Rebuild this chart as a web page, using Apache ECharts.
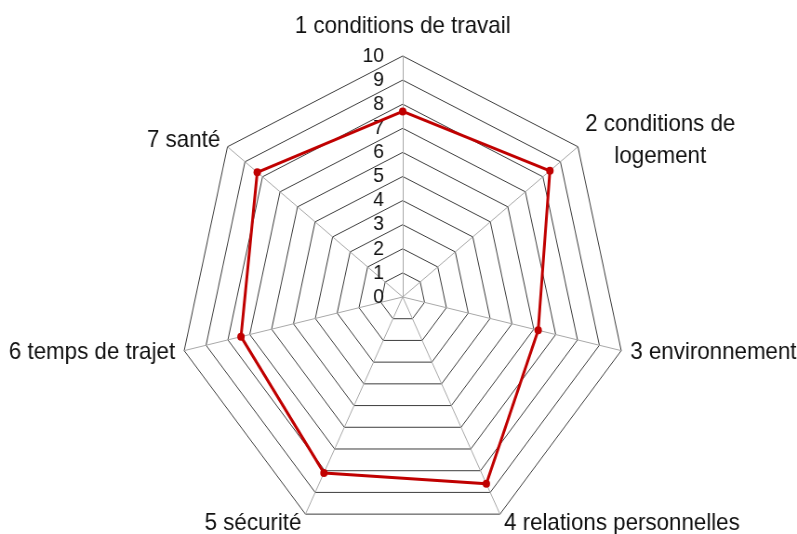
<!DOCTYPE html>
<html>
<head>
<meta charset="utf-8">
<script src="https://cdn.jsdelivr.net/npm/echarts@6/dist/echarts.min.js"></script>
<style>
  html, body { margin: 0; padding: 0; overflow: hidden; background: #fff; }
  /* the reference is squeezed horizontally, so the chart is drawn wider and scaled back */
  #chart { width: 857px; height: 534px; transform: scaleX(0.93); transform-origin: 0 0; }
</style>
</head>
<body>
<div id="chart"></div>
<script>
const categories = [
  '1 conditions de travail',
  '2 conditions de logement',
  '3 environnement',
  '4 relations personnelles',
  '5 sécurité',
  '6 temps de trajet',
  '7 santé'
]
const scores = [7.7, 8.4, 6.2, 8.6, 8.1, 7.4, 8.3]
const maxScore = 10

// echarts lays indicators out counter-clockwise, the reference goes clockwise
const order = [0, 6, 5, 4, 3, 2, 1]

const indicator = order.map((i, k) => {
  const item = { name: categories[i], max: maxScore, min: 0 }
  if (k === 0) item.axisLabel = { show: true }
  return item
})

const font = 'Liberation Sans, Arial, sans-serif'

const chart = echarts.init(document.getElementById('chart'))
chart.setOption({
  animation: false,
  radar: {
    center: [433, 297],
    radius: 241,
    startAngle: 90,
    shape: 'polygon',
    splitNumber: 10,
    indicator,
    axisName: {
      color: '#111',
      fontFamily: font,
      fontSize: 24,
      formatter: (name) => {
        if (name === categories[0]) return '{top|' + name + '}'
        if (name === categories[1]) return '{a|2 conditions de}\n{a|logement}'
        return name
      },
      rich: {
        top: { fontSize: 24, color: '#111', fontFamily: font, lineHeight: 40 },
        a: { fontSize: 24, color: '#111', fontFamily: font, lineHeight: 32, align: 'center' }
      }
    },
    nameGap: 10,
    splitArea: { show: false },
    splitLine: { lineStyle: { color: '#3c3c3c', width: 1 } },
    axisLine: { lineStyle: { color: '#a8a8a8', width: 1 } },
    axisTick: { show: false },
    axisLabel: {
      show: false,
      color: '#111',
      fontSize: 21,
      fontFamily: font,
      margin: 20,
      showMinLabel: true,
      showMaxLabel: true,
      hideOverlap: false
    }
  },
  series: [{
    type: 'radar',
    symbol: 'circle',
    symbolSize: 8,
    lineStyle: { color: '#c00000', width: 3 },
    itemStyle: { color: '#c00000' },
    data: [{ value: order.map(i => scores[i]) }]
  }]
})
</script>
</body>
</html>
